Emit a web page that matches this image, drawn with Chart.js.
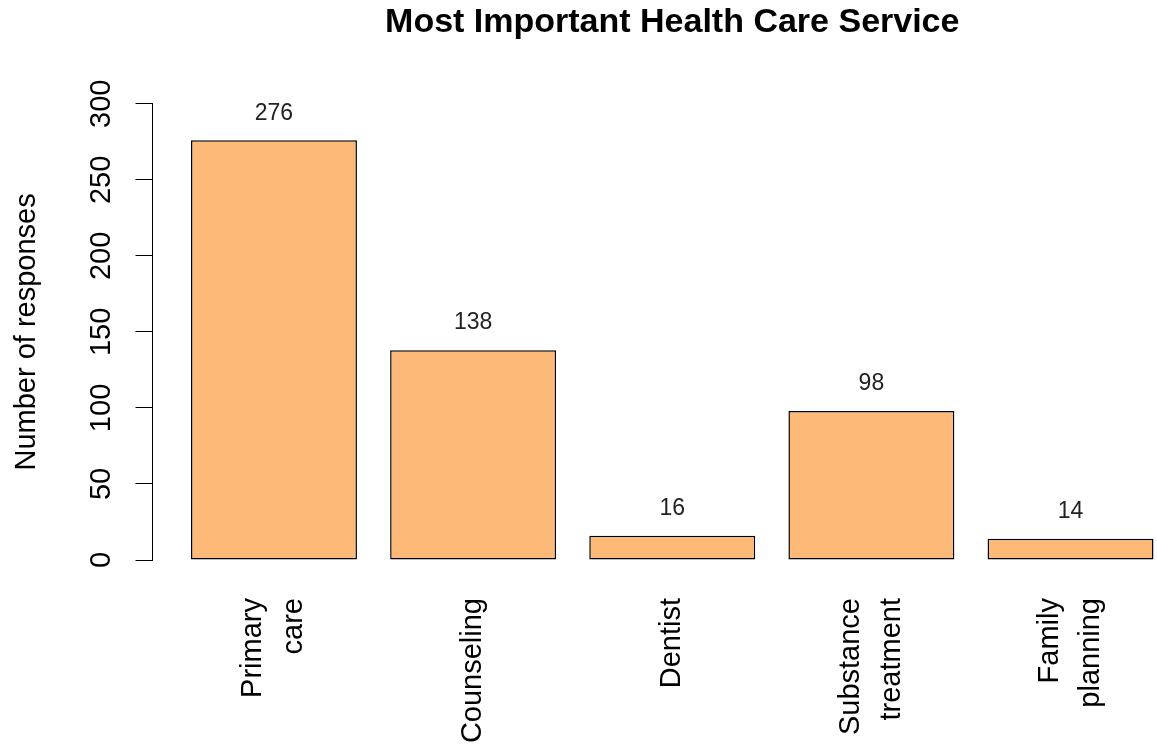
<!DOCTYPE html>
<html>
<head>
<meta charset="utf-8">
<script src="https://cdn.jsdelivr.net/npm/chart.js@4"></script>
<style>
  html, body { margin: 0; padding: 0; background: #fff; overflow: hidden; }
  #wrap { width: 1192px; height: 748px; }
</style>
</head>
<body>
<div id="wrap"><canvas id="myChart" width="1192" height="748"></canvas></div>
<script>
// data
var services = [["Primary", "care"], ["Counseling"], ["Dentist"], ["Substance", "treatment"], ["Family", "planning"]];
var responses = [276, 138, 16, 98, 14];
var yTicks = [0, 50, 100, 150, 200, 250, 300];

var fontFamily = "'Liberation Sans', Arial, sans-serif";
Chart.defaults.color = '#000';
Chart.defaults.font.family = fontFamily;

// bars laid out like R's barplot: width 1, space 0.2, axis range padded 4%
var barW = 1, barGap = 0.2;
var mids = services.map(function (s, i) { return barGap + i * (barW + barGap) + barW / 2; });
var xEnd = services.length * (barW + barGap);
var xPad = (xEnd - barGap) * 0.04;
var xMin = barGap - xPad, xMax = xEnd + xPad;

// empty first line keeps one-line labels centred, two-line labels straddle the tick
var tickLabels = services.map(function (s) { return s.length > 1 ? s : [""].concat(s); });

var valueLabels = {
  id: 'valueLabels',
  afterDatasetsDraw: function (chart) {
    var ctx = chart.ctx;
    ctx.save();
    ctx.font = '23px ' + fontFamily;
    ctx.fillStyle = '#222';
    ctx.textAlign = 'center';
    ctx.textBaseline = 'middle';
    chart.getDatasetMeta(0).data.forEach(function (bar, i) {
      ctx.fillText(String(responses[i]), bar.x, bar.y - 27);
    });
    ctx.restore();
  }
};

var ctx = document.getElementById('myChart').getContext('2d');
var chart = new Chart(ctx, {
  type: 'bar',
  data: {
    datasets: [{
      data: responses.map(function (v, i) { return { x: mids[i], y: v }; }),
      backgroundColor: '#FDB978',
      borderColor: '#000',
      borderWidth: 1.5,
      borderSkipped: false,
      categoryPercentage: 1,
      barPercentage: barW / (barW + barGap)
    }]
  },
  options: {
    responsive: false,
    animation: false,
    layout: { padding: 0 },
    plugins: {
      legend: { display: false },
      tooltip: { enabled: false },
      title: {
        display: true,
        text: 'Most Important Health Care Service',
        fullSize: false,
        color: '#000',
        font: { size: 34, weight: 'bold', lineHeight: 1.2 },
        padding: { top: 2, bottom: 61 }
      }
    },
    scales: {
      x: {
        type: 'linear',
        offset: false,
        bounds: 'data',
        min: xMin,
        max: xMax,
        grid: { display: false, drawTicks: false, offset: false },
        border: { display: false },
        afterBuildTicks: function (s) { s.ticks = mids.map(function (m) { return { value: m }; }); },
        afterFit: function (s) { s.height = 188; s.paddingLeft = 0; s.paddingRight = 0; },
        ticks: {
          autoSkip: false,
          minRotation: 90,
          maxRotation: 90,
          padding: 38,
          labelOffset: -20.5,
          color: '#000',
          font: function (c) {
            var two = services[c.index] && services[c.index].length > 1;
            return { size: 29, lineHeight: two ? '41px' : '20.5px' };
          },
          callback: function (v, i) { return tickLabels[i]; }
        }
      },
      y: {
        min: 0,
        max: 300,
        afterBuildTicks: function (s) { s.ticks = yTicks.map(function (t) { return { value: t }; }); },
        afterFit: function (s) { s.width = 152.5; },
        border: { display: true, color: '#000', width: 1 },
        grid: { drawOnChartArea: false, drawTicks: true, tickLength: 17, color: '#000' },
        ticks: {
          minRotation: 90,
          maxRotation: 90,
          crossAlign: 'center',
          padding: 9,
          color: '#000',
          font: { size: 29 }
        },
        title: {
          display: true,
          text: 'Number of responses',
          color: '#000',
          font: { size: 29 },
          padding: { top: 10, bottom: 0 }
        }
      }
    }
  },
  plugins: [valueLabels]
});
</script>
</body>
</html>
